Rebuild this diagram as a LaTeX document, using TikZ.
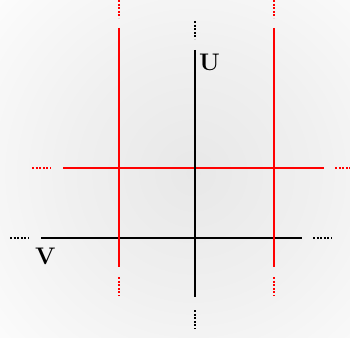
\documentclass[tikz,border=0pt]{standalone}
\pgfdeclareradialshading{bgshade}{\pgfpoint{0bp}{0bp}}{color(0bp)=(black!9); color(15bp)=(black!6); color(30bp)=(black!2); color(36bp)=(white); color(50bp)=(white)}
\tikzset{
  axisline/.style={line width=2pt, black},
  redline/.style={line width=2.4pt, red},
  axisdots/.style={line width=2pt, black, dash pattern=on 2pt off 1.6pt},
  reddots/.style={line width=2.2pt, red, dash pattern=on 2pt off 1.6pt},
  lbl/.style={font=\fontsize{24}{28}\selectfont\bfseries, inner sep=0pt}
}
\begin{document}
\begin{tikzpicture}[x=1pt,y=-1pt]
\useasboundingbox (0,0) rectangle (350,337);
\fill[white] (0,0) rectangle (350,337);
\begin{scope}
\clip (0,0) rectangle (350,337);
\path[shading=bgshade] (-7,-27) rectangle (393,373);
\end{scope}
% black vertical U axis
\coordinate (u1) at (195,50); \coordinate (u2) at (195,297);
\coordinate (ud1a) at (195,21); \coordinate (ud1b) at (195,39);
\coordinate (ud2a) at (195,310); \coordinate (ud2b) at (195,329);
% black horizontal V axis
\coordinate (v1) at (41,238); \coordinate (v2) at (302,238);
\coordinate (vd1a) at (10,238); \coordinate (vd1b) at (29,238);
\coordinate (vd2a) at (313,238); \coordinate (vd2b) at (332,238);
% red verticals
\coordinate (ra1) at (119,28); \coordinate (ra2) at (119,267);
\coordinate (rad1a) at (119,0); \coordinate (rad1b) at (119,18);
\coordinate (rad2a) at (119,277); \coordinate (rad2b) at (119,296);
\coordinate (rb1) at (274,28); \coordinate (rb2) at (274,267);
\coordinate (rbd1a) at (274,0); \coordinate (rbd1b) at (274,18);
\coordinate (rbd2a) at (274,277); \coordinate (rbd2b) at (274,296);
% red horizontal
\coordinate (rh1) at (63,168); \coordinate (rh2) at (324,168);
\coordinate (rhd1a) at (32,168); \coordinate (rhd1b) at (51,168);
\coordinate (rhd2a) at (335,168); \coordinate (rhd2b) at (350,168);

\draw[axisline] (v1) -- (v2);
\draw[axisdots] (vd1a) -- (vd1b);
\draw[axisdots] (vd2a) -- (vd2b);
\draw[redline] (ra1) -- (ra2);
\draw[redline] (rb1) -- (rb2);
\draw[redline] (rh1) -- (rh2);
\draw[reddots] (rad1a) -- (rad1b);
\draw[reddots] (rad2a) -- (rad2b);
\draw[reddots] (rbd1a) -- (rbd1b);
\draw[reddots] (rbd2a) -- (rbd2b);
\draw[reddots] (rhd1a) -- (rhd1b);
\draw[reddots] (rhd2a) -- (rhd2b);
\draw[axisline] (u1) -- (u2);
\draw[axisdots] (ud1a) -- (ud1b);
\draw[axisdots] (ud2a) -- (ud2b);

\node[lbl, anchor=base west] (U) at (199,70) {U};
\node[lbl, anchor=base west] (V) at (35,264) {V};
\end{tikzpicture}
\end{document}
